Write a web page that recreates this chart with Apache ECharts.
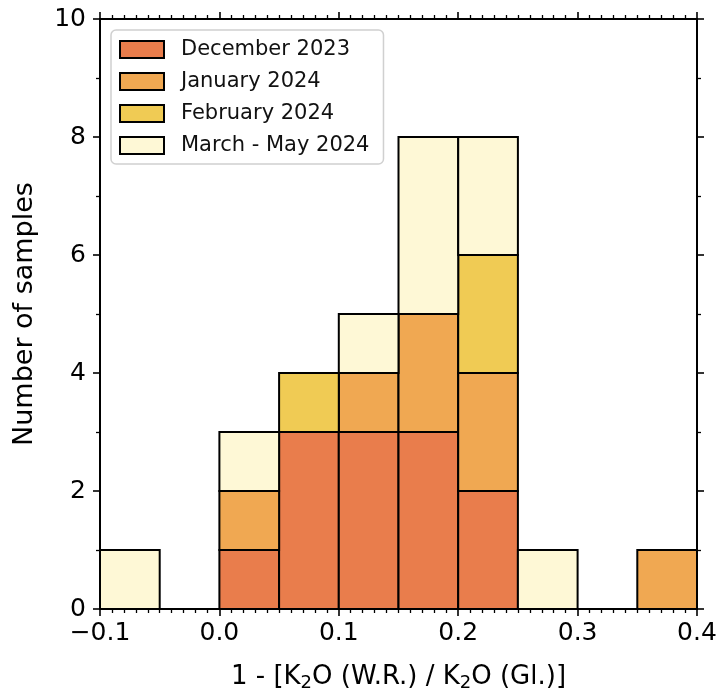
<!DOCTYPE html>
<html>
<head>
<meta charset="utf-8">
<script src="https://cdn.jsdelivr.net/npm/echarts@6/dist/echarts.min.js"></script>
<style>
  html, body { margin: 0; padding: 0; background: #fff; }
  #chart { width: 720px; height: 697px; }
</style>
</head>
<body>
<div id="chart"></div>
<script>
// Histogram bins (left edges, width 0.05)
const binStarts = [-0.10, -0.05, 0.00, 0.05, 0.10, 0.15, 0.20, 0.25, 0.30, 0.35];
const binWidth = 0.05;

// Sample counts per bin for each sampling period
const seriesNames = ['December 2023', 'January 2024', 'February 2024', 'March - May 2024'];
const december = [0, 0, 1, 3, 3, 3, 2, 0, 0, 0];
const january  = [0, 0, 1, 0, 1, 2, 2, 0, 0, 1];
const february = [0, 0, 0, 1, 0, 0, 2, 0, 0, 0];
const marchMay = [1, 0, 1, 0, 1, 3, 2, 1, 0, 0];

const colors = ['#e97d4c', '#f0a852', '#f0cb54', '#fef8d6'];
const FONT = 'DejaVu Sans';

const counts = [december, january, february, marchMay];

// Build stacked rectangles [x0, x1, yBottom, yTop]
const base = binStarts.map(() => 0);
const stacked = counts.map(arr => {
  const rows = [];
  arr.forEach((c, i) => {
    if (c > 0) rows.push([binStarts[i], binStarts[i] + binWidth, base[i], base[i] + c]);
    base[i] += c;
  });
  return rows;
});

function renderBar(params, api) {
  const p0 = api.coord([api.value(0), api.value(3)]);
  const p1 = api.coord([api.value(1), api.value(2)]);
  return {
    type: 'rect',
    shape: { x: p0[0], y: p0[1], width: p1[0] - p0[0], height: p1[1] - p0[1] },
    style: { fill: api.visual('color'), stroke: '#000', lineWidth: 2 }
  };
}

function xFmt(v) {
  if (Math.abs(v) < 1e-9) return '0.0';
  return v.toFixed(1).replace('-', '\u2212');
}

const axisLineStyle = { color: '#000', width: 2 };
const majorTick = { show: true, inside: false, length: 7, lineStyle: { color: '#000', width: 1.6 } };

const option = {
  animation: false,
  textStyle: { fontFamily: FONT },
  grid: { left: 100, right: 23, top: 19, bottom: 86, containLabel: false },
  legend: {
    orient: 'vertical',
    left: 111,
    top: 30,
    padding: [9, 14, 8, 8],
    itemWidth: 44,
    itemHeight: 17,
    itemGap: 11,
    icon: 'rect',
    backgroundColor: '#fff',
    borderColor: '#d0d0d0',
    borderWidth: 1.5,
    borderRadius: 5,
    textStyle: { fontFamily: FONT, fontSize: 21, color: '#111', padding: [0, 0, 0, 12] },
    itemStyle: { borderColor: '#000', borderWidth: 2 },
    data: seriesNames
  },
  xAxis: [{
    type: 'value',
    position: 'bottom',
    min: -0.1, max: 0.4, interval: 0.1,
    axisLine: { show: true, onZero: false, lineStyle: axisLineStyle },
    axisTick: majorTick,
    minorTick: { show: true, splitNumber: 10, length: 4, lineStyle: { color: '#000', width: 1.3 } },
    splitLine: { show: false },
    axisLabel: { formatter: xFmt, fontFamily: FONT, fontSize: 25, color: '#000', margin: 12 },
    name: '{a|1 - [K}{s|2}{a|O (W.R.) / K}{s|2}{a|O (Gl.)]}',
    nameLocation: 'middle',
    nameGap: 54,
    nameTextStyle: {
      rich: {
        a: { fontFamily: FONT, fontSize: 26, color: '#000' },
        s: { fontFamily: FONT, fontSize: 18, color: '#000', padding: [11, 0, 0, 0] }
      }
    }
  }, {
    type: 'value',
    position: 'top',
    min: -0.1, max: 0.4, interval: 0.1,
    axisLine: { show: true, onZero: false, lineStyle: axisLineStyle },
    axisTick: majorTick,
    minorTick: { show: true, splitNumber: 10, length: 4, lineStyle: { color: '#000', width: 1.3 } },
    splitLine: { show: false },
    axisLabel: { show: false }
  }],
  yAxis: [{
    type: 'value',
    position: 'left',
    min: 0, max: 10, interval: 2,
    axisLine: { show: true, onZero: false, lineStyle: axisLineStyle },
    axisTick: majorTick,
    minorTick: { show: true, splitNumber: 2, length: 4, lineStyle: { color: '#000', width: 1.3 } },
    splitLine: { show: false },
    axisLabel: { fontFamily: FONT, fontSize: 25, color: '#000', margin: 14 },
    name: 'Number of samples',
    nameLocation: 'middle',
    nameGap: 62,
    nameTextStyle: { fontFamily: FONT, fontSize: 27, color: '#000' }
  }, {
    type: 'value',
    position: 'right',
    min: 0, max: 10, interval: 2,
    axisLine: { show: true, onZero: false, lineStyle: axisLineStyle },
    axisTick: majorTick,
    minorTick: { show: true, splitNumber: 2, length: 4, lineStyle: { color: '#000', width: 1.3 } },
    splitLine: { show: false },
    axisLabel: { show: false }
  }],
  series: seriesNames.map((name, k) => ({
    name: name,
    type: 'custom',
    xAxisIndex: 0,
    yAxisIndex: 0,
    color: colors[k],
    itemStyle: { color: colors[k], borderColor: '#000', borderWidth: 2 },
    renderItem: renderBar,
    encode: { x: [0, 1], y: [2, 3] },
    data: stacked[k]
  }))
};

const chart = echarts.init(document.getElementById('chart'), null, { renderer: 'canvas' });
chart.setOption(option);
</script>
</body>
</html>
